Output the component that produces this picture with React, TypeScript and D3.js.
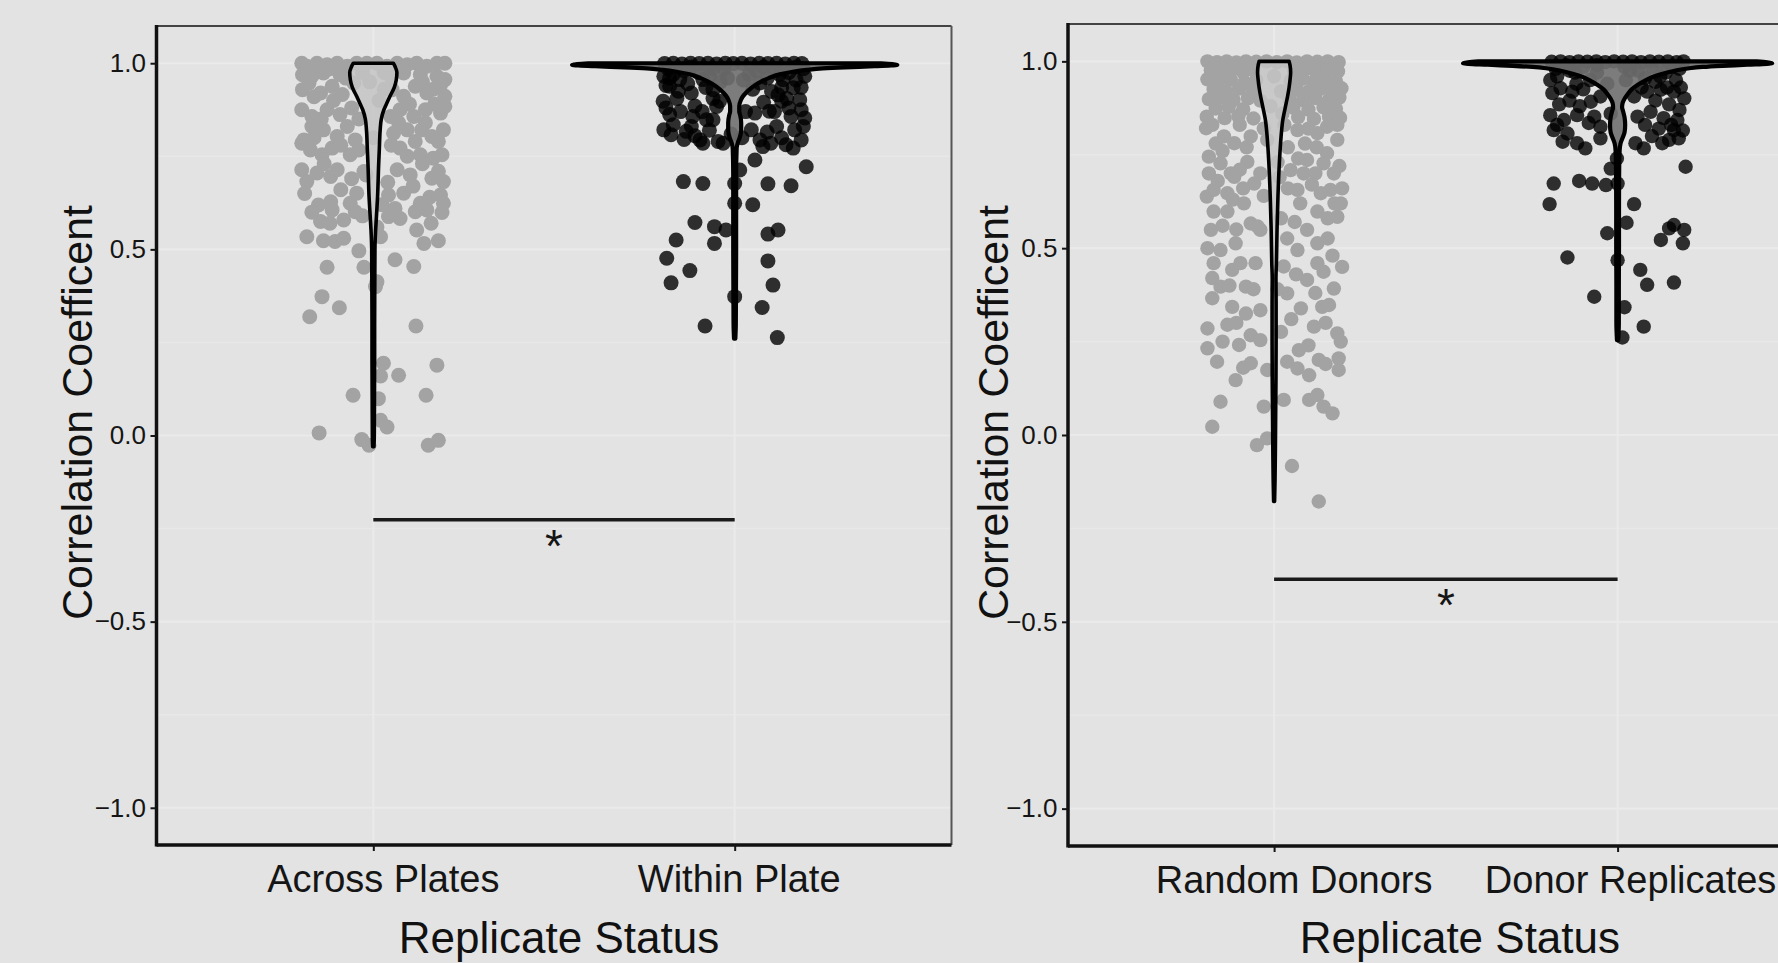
import React, { useEffect, useRef } from 'react'
import * as d3 from 'd3'

const FONT = '"Liberation Sans", Arial, Helvetica, sans-serif'

const leftCategories = ['Across Plates', 'Within Plate']
const rightCategories = ['Random Donors', 'Donor Replicates']
const yTicks = [-1, -0.5, 0, 0.5, 1]
const yMinorTicks = [-0.75, -0.25, 0.25, 0.75]

// points: [jitter (-1..1 of the jitter width), correlation]
const acrossPlates = [
  [0.56, 0.454], [-0.64, 0.452], [-0.13, 0.452], [0.3, 0.472], [0.05, 0.413], [-0.71, 0.373], [-0.47, 0.343],
  [-0.88, 0.319], [0.59, 0.294], [0.88, 0.189], [0.14, 0.194], [0.35, 0.162], [0.1, 0.16], [-0.28, 0.108],
  [0.73, 0.108], [0.07, 0.099], [0.1, 0.041], [0.19, 0.023], [-0.75, 0.007], [-0.16, -0.011], [-0.06, -0.026],
  [0.76, -0.026], [0.9, -0.013], [-0.2, 0.496], [-0.92, 0.534], [-0.69, 0.523], [-0.53, 0.521], [-0.41, 0.53],
  [0.7, 0.516], [0.9, 0.523], [0.6, 0.552], [0.1, 0.534], [0.03, 0.4],
  [-0.73, 0.575], [-0.57, 0.606], [-0.41, 0.579], [-0.25, 0.601], [0.21, 0.588], [0.37, 0.583], [0.58, 0.601],
  [0.74, 0.606], [0.95, 0.599],
  [-0.76, 0.619], [-0.59, 0.628], [-0.32, 0.624], [-0.23, 0.651], [0.21, 0.646], [0.42, 0.651], [0.65, 0.624],
  [0.93, 0.646], [0.97, 0.624],
  [-0.99, 0.714], [-0.92, 0.682], [-0.78, 0.705], [-0.59, 0.696], [-0.5, 0.714], [-0.13, 0.709], [0.33, 0.714],
  [0.51, 0.7], [0.81, 0.691], [0.97, 0.682],
  [-0.99, 0.785], [-0.87, 0.767], [-0.71, 0.754], [-0.57, 0.772], [-0.32, 0.754], [-0.2, 0.767], [0.37, 0.772],
  [0.47, 0.75], [0.65, 0.754], [0.83, 0.745], [0.95, 0.754],
  [-0.96, 0.794], [-0.85, 0.83], [-0.69, 0.821], [-0.5, 0.803], [-0.36, 0.83], [-0.25, 0.794], [0.28, 0.812],
  [0.47, 0.821], [0.67, 0.821], [0.81, 0.803], [0.97, 0.821],
  [-0.99, 0.875], [-0.85, 0.857], [-0.64, 0.875], [-0.46, 0.862], [0.24, 0.857], [0.37, 0.875], [0.56, 0.857],
  [0.72, 0.875], [0.93, 0.866], [0.99, 0.884],
  [-0.98, 0.929], [-0.89, 0.947], [-0.73, 0.92], [-0.57, 0.938], [-0.43, 0.916], [-0.27, 0.947], [0.26, 0.929],
  [0.42, 0.911], [0.58, 0.938], [0.74, 0.92], [0.93, 0.942], [0.99, 0.911],
  [-0.99, 1.0], [-0.92, 0.992], [-0.78, 1.0], [-0.64, 0.996], [-0.5, 1.0], [-0.36, 0.992], [-0.23, 1.0],
  [-0.09, 1.0], [0.05, 1.0], [0.19, 0.992], [0.33, 1.0], [0.47, 0.996], [0.6, 1.0], [0.74, 0.992], [0.88, 1.0],
  [0.99, 1.0], [-0.98, 0.969], [-0.85, 0.965], [-0.69, 0.974], [-0.46, 0.969], [0.24, 0.965], [0.42, 0.974],
  [0.65, 0.969], [0.88, 0.965], [0.99, 0.956],
  [-0.05, 0.95], [0.08, 0.9], [0.0, 0.8], [-0.1, 0.7], [0.12, 0.62], [0.05, 0.56],
  [-0.85, 0.6], [-0.6, 0.57], [-0.15, 0.59], [0.3, 0.61], [0.8, 0.57], [-0.95, 0.65], [-0.45, 0.66], [0.55, 0.67],
  [0.78, 0.64], [-0.68, 0.73], [-0.3, 0.69], [0.2, 0.68], [0.68, 0.73], [0.9, 0.71], [-0.82, 0.8], [-0.45, 0.78],
  [0.25, 0.78], [0.58, 0.79], [0.9, 0.79], [-0.72, 0.85], [-0.2, 0.85], [0.35, 0.84], [0.72, 0.84], [0.85, 0.89],
  [-0.55, 0.9], [-0.3, 0.88], [0.5, 0.89], [-0.82, 0.91], [0.15, 0.93], [0.68, 0.95], [-0.38, 0.96], [0.83, 0.93],
  [-0.6, 0.985], [0.3, 0.985], [0.15, 0.975], [-0.15, 0.975],
]

const withinPlate = [
  [0.99, 0.722], [-0.71, 0.682], [-0.44, 0.677], [0.46, 0.676], [0.78, 0.671], [0.28, 0.74], [0.07, 0.713],
  [0.39, 0.776], [0.25, 0.62], [0.0, 0.624], [0.0, 0.677], [-0.55, 0.572], [-0.28, 0.561], [-0.12, 0.552],
  [-0.81, 0.525], [-0.28, 0.516], [0.46, 0.541], [0.6, 0.552], [-0.94, 0.476], [-0.62, 0.443], [-0.88, 0.41],
  [0.46, 0.469], [0.53, 0.404], [0.0, 0.373], [0.38, 0.344], [-0.41, 0.294], [0.59, 0.263],
  [-0.97, 0.999], [-0.85, 1.0], [-0.73, 0.998], [-0.61, 1.0], [-0.49, 0.999], [-0.37, 1.0], [-0.25, 0.998],
  [-0.13, 1.0], [-0.02, 0.999], [0.1, 1.0], [0.22, 0.998], [0.34, 1.0], [0.46, 0.999], [0.58, 1.0], [0.7, 0.998],
  [0.82, 1.0], [0.93, 0.999],
  [-0.98, 0.965], [-0.9, 0.938], [-0.76, 0.956], [-0.6, 0.92], [-0.44, 0.956], [-0.3, 0.929], [-0.21, 0.898],
  [0.35, 0.947], [0.51, 0.924], [0.67, 0.956], [0.81, 0.934], [0.97, 0.965], [0.9, 0.902],
  [-0.99, 0.898], [-0.9, 0.862], [-0.58, 0.857], [-0.25, 0.884], [-0.39, 0.848], [0.28, 0.866], [0.48, 0.871],
  [0.65, 0.898], [0.78, 0.857], [0.97, 0.853],
  [-0.98, 0.821], [-0.88, 0.808], [-0.67, 0.817], [-0.48, 0.794], [-0.3, 0.848], [-0.16, 0.785], [0.23, 0.821],
  [0.35, 0.794], [0.58, 0.83], [0.71, 0.781], [0.83, 0.821], [0.92, 0.794], [0.81, 0.772], [-0.44, 0.785],
  [-0.23, 0.79],
  [-0.92, 0.985], [-0.7, 0.98], [-0.5, 0.975], [-0.3, 0.985], [0.3, 0.98], [0.55, 0.985], [0.75, 0.975],
  [0.95, 0.985], [-0.8, 0.905], [0.6, 0.915], [-0.1, 0.96], [0.12, 0.955], [-0.95, 0.94], [0.92, 0.935],
  [-0.55, 0.885], [0.15, 0.87],
  [-0.9, 0.96], [-0.65, 0.945], [-0.4, 0.935], [-0.2, 0.95], [0.25, 0.93], [0.45, 0.96], [0.65, 0.935],
  [0.85, 0.955], [-0.95, 0.88], [-0.75, 0.87], [-0.45, 0.87], [-0.3, 0.905], [0.4, 0.895], [0.55, 0.87],
  [0.75, 0.88], [0.92, 0.875], [-0.85, 0.835], [-0.6, 0.83], [-0.35, 0.82], [-0.05, 0.81], [0.1, 0.8],
  [0.45, 0.815], [0.65, 0.8], [0.95, 0.83], [-0.7, 0.795], [-0.55, 0.805], [0.5, 0.785], [-0.85, 0.97],
  [-0.6, 0.99], [-0.35, 0.965], [-0.15, 0.985], [0.2, 0.97], [0.4, 0.99], [0.62, 0.97], [0.85, 0.99],
  [-0.78, 0.925], [0.72, 0.905],
]

const randomDonors = [
  [0.65, -0.178], [0.26, -0.083], [-0.25, -0.027], [-0.1, -0.009], [-0.9, 0.022], [-0.78, 0.089], [-0.15, 0.076],
  [0.14, 0.094], [0.51, 0.094], [0.63, 0.107], [0.72, 0.076], [0.85, 0.058], [-0.56, 0.147], [-0.34, 0.192],
  [-0.1, 0.174], [0.19, 0.196], [0.34, 0.178], [0.51, 0.16], [0.65, 0.201], [0.94, 0.174], [0.94, 0.205],
  [-0.83, 0.196], [-0.97, 0.232], [-0.97, 0.285], [-0.68, 0.295], [-0.51, 0.241], [-0.34, 0.267], [-0.2, 0.254],
  [0.1, 0.276], [0.36, 0.227], [0.58, 0.29], [0.97, 0.25], [0.92, 0.272], [-0.61, 0.343], [-0.41, 0.325],
  [-0.2, 0.334], [0.19, 0.379], [0.39, 0.339], [0.48, 0.415], [0.7, 0.343], [0.8, 0.348], [0.87, 0.392],
  [0.99, 0.45], [-0.9, 0.366], [-0.78, 0.397], [-0.61, 0.442], [-0.41, 0.397], [-0.49, 0.46], [-0.27, 0.46],
  [0.14, 0.451], [0.63, 0.46], [0.72, 0.437], [-0.88, 0.46], [-0.97, 0.5], [-0.78, 0.495], [-0.56, 0.513],
  [-0.34, 0.566], [-0.2, 0.549], [0.19, 0.526], [0.34, 0.495], [0.48, 0.549], [0.63, 0.513], [0.78, 0.526],
  [-0.92, 0.549], [-0.88, 0.598], [-0.68, 0.598], [-0.44, 0.62], [-0.24, 0.558], [0.38, 0.62], [0.63, 0.598],
  [0.92, 0.584], [0.97, 0.62], [-0.98, 0.638], [-0.88, 0.656], [-0.68, 0.647], [-0.58, 0.691], [-0.29, 0.673],
  [0.34, 0.656], [0.43, 0.7], [0.68, 0.647], [0.82, 0.656], [0.99, 0.66], [-0.95, 0.745], [-0.78, 0.727],
  [-0.63, 0.7], [-0.39, 0.731], [-0.2, 0.7], [0.24, 0.709], [0.48, 0.736], [0.72, 0.727], [0.87, 0.7],
  [0.77, 0.754], [0.92, 0.79], [-0.99, 0.821], [-0.73, 0.799], [-0.58, 0.781], [-0.34, 0.799], [0.34, 0.816],
  [0.63, 0.808], [0.77, 0.825],
  [-0.97, 1.0], [-0.83, 0.998], [-0.69, 1.0], [-0.55, 0.997], [-0.41, 1.0], [-0.26, 0.999], [-0.11, 1.0],
  [0.04, 0.998], [0.19, 1.0], [0.33, 0.997], [0.48, 1.0], [0.63, 0.999], [0.78, 1.0], [0.94, 0.998],
  [-0.92, 0.976], [-0.76, 0.972], [-0.6, 0.979], [-0.45, 0.971], [-0.31, 0.977], [0.29, 0.974], [0.45, 0.978],
  [0.61, 0.972], [0.78, 0.977], [0.93, 0.973],
  [-0.97, 0.952], [-0.81, 0.946], [-0.63, 0.951], [-0.43, 0.944], [-0.26, 0.95], [0.24, 0.948], [0.41, 0.953],
  [0.57, 0.945], [0.74, 0.95], [0.9, 0.947],
  [-0.88, 0.925], [-0.7, 0.92], [-0.51, 0.927], [-0.31, 0.922], [0.33, 0.924], [0.5, 0.919], [0.67, 0.926],
  [0.85, 0.921], [0.98, 0.928],
  [-0.95, 0.899], [-0.78, 0.903], [-0.59, 0.897], [-0.38, 0.901], [-0.2, 0.895], [0.22, 0.9], [0.42, 0.896],
  [0.6, 0.902], [0.8, 0.898], [0.95, 0.903],
  [-0.85, 0.874], [-0.66, 0.878], [-0.45, 0.872], [0.28, 0.876], [0.5, 0.871], [0.72, 0.877], [0.9, 0.873],
  [-0.98, 0.852], [-0.72, 0.848], [-0.52, 0.853], [-0.3, 0.847], [0.35, 0.851], [0.58, 0.846], [0.8, 0.852],
  [0.96, 0.849],
  [-0.9, 0.83], [-0.5, 0.83], [-0.15, 0.82], [0.15, 0.83], [0.5, 0.82], [0.92, 0.83], [-0.85, 0.78], [-0.4, 0.77],
  [0.2, 0.77], [0.45, 0.78], [0.62, 0.77], [-0.95, 0.7], [-0.75, 0.76], [-0.5, 0.71], [0.05, 0.73], [0.35, 0.74],
  [0.6, 0.7], [0.95, 0.72], [-0.82, 0.68], [-0.45, 0.66], [-0.15, 0.64], [0.2, 0.66], [0.55, 0.67], [0.88, 0.62],
  [-0.6, 0.63], [-0.75, 0.56], [-0.55, 0.55], [0.1, 0.58], [0.3, 0.57], [0.78, 0.58], [-0.9, 0.42], [0.32, 0.43],
  [0.85, 0.48], [-0.65, 0.4], [0.05, 0.39], [-0.3, 0.39], [0.6, 0.38], [-0.55, 0.3], [0.25, 0.31], [0.75, 0.3],
  [-0.75, 0.25], [0.5, 0.24], [-0.45, 0.18], [0.75, 0.19], [0.0, 0.96], [0.1, 0.92], [-0.05, 0.88], [0.12, 0.86],
  [-0.1, 0.79], [0.08, 0.69],
]

const donorReplicates = [
  [0.99, 0.718], [-0.93, 0.673], [-0.56, 0.68], [-0.37, 0.673], [-0.17, 0.669], [0.0, 0.673], [-0.1, 0.713],
  [-0.01, 0.74], [-0.99, 0.618], [0.24, 0.618], [0.13, 0.568], [0.75, 0.553], [0.82, 0.562], [0.97, 0.549],
  [0.63, 0.522], [0.95, 0.513], [-0.15, 0.54], [0.0, 0.468], [-0.73, 0.475], [0.33, 0.442], [0.43, 0.402],
  [0.82, 0.408], [-0.34, 0.37], [0.1, 0.342], [0.38, 0.29], [0.07, 0.261],
  [-0.96, 0.999], [-0.83, 1.0], [-0.7, 0.998], [-0.57, 1.0], [-0.44, 0.999], [-0.31, 1.0], [-0.18, 0.998],
  [-0.05, 1.0], [0.08, 0.999], [0.21, 1.0], [0.34, 0.998], [0.47, 1.0], [0.6, 0.999], [0.73, 1.0], [0.86, 0.998],
  [0.96, 1.0],
  [-0.98, 0.95], [-0.83, 0.928], [-0.66, 0.919], [-0.39, 0.892], [-0.25, 0.906], [0.24, 0.906], [0.43, 0.919],
  [0.63, 0.924], [0.82, 0.919], [0.97, 0.901],
  [-0.98, 0.856], [-0.78, 0.843], [-0.59, 0.856], [-0.34, 0.852], [-0.25, 0.825], [0.29, 0.852], [0.48, 0.865],
  [0.67, 0.848], [0.87, 0.843],
  [-0.93, 0.816], [-0.73, 0.807], [-0.59, 0.781], [-0.47, 0.767], [-0.25, 0.794], [0.26, 0.781], [0.38, 0.767],
  [0.65, 0.781], [0.89, 0.794], [0.82, 0.816],
  [-0.9, 0.98], [-0.7, 0.975], [-0.5, 0.985], [-0.3, 0.97], [0.3, 0.975], [0.5, 0.985], [0.7, 0.97], [0.9, 0.98],
  [-0.6, 0.94], [0.55, 0.945], [-0.85, 0.885], [0.75, 0.885], [-0.1, 0.86], [0.12, 0.95],
  [-0.88, 0.96], [-0.62, 0.97], [-0.4, 0.95], [-0.15, 0.94], [0.18, 0.975], [0.4, 0.955], [0.62, 0.96],
  [0.85, 0.95], [-0.95, 0.915], [-0.5, 0.925], [0.35, 0.93], [0.72, 0.93], [0.92, 0.93], [-0.7, 0.895],
  [-0.55, 0.88], [0.55, 0.895], [0.9, 0.87], [-0.88, 0.83], [-0.42, 0.835], [0.4, 0.83], [0.6, 0.82],
  [0.78, 0.83], [0.95, 0.815], [-0.8, 0.785], [0.5, 0.8], [0.75, 0.79], [-0.3, 0.99], [0.1, 0.985],
  [0.8, 0.985], [-0.75, 0.99],
]

// violin outlines: [correlation, half width as share of the widest violin]
const acrossViolin = [
  [1.0, 0.123], [0.99, 0.135], [0.975, 0.145], [0.955, 0.141], [0.935, 0.129], [0.91, 0.101], [0.89, 0.08],
  [0.875, 0.065], [0.85, 0.049], [0.82, 0.042], [0.77, 0.037], [0.73, 0.033], [0.64, 0.026], [0.58, 0.018],
  [0.55, 0.014], [0.5, 0.01], [0.4, 0.009], [0.3, 0.008], [0.2, 0.008], [0.1, 0.007], [0.0, 0.006],
  [-0.03, 0.004],
]
const withinViolin = [
  [1.0, 0.9], [0.996, 1.0], [0.992, 0.86], [0.989, 0.677], [0.986, 0.541], [0.982, 0.443], [0.977, 0.357],
  [0.97, 0.277], [0.96, 0.209], [0.95, 0.16], [0.94, 0.123], [0.93, 0.092], [0.92, 0.068], [0.91, 0.049],
  [0.9, 0.037], [0.885, 0.028], [0.87, 0.028], [0.86, 0.034], [0.84, 0.04], [0.82, 0.04], [0.8, 0.031],
  [0.785, 0.018], [0.77, 0.012], [0.7, 0.009], [0.6, 0.009], [0.5, 0.009], [0.4, 0.008], [0.3, 0.007],
  [0.26, 0.004],
]
const randomViolin = [
  [1.0, 0.097], [0.99, 0.103], [0.97, 0.107], [0.95, 0.103], [0.93, 0.097], [0.906, 0.087], [0.88, 0.074],
  [0.862, 0.065], [0.84, 0.055], [0.817, 0.049], [0.77, 0.04], [0.728, 0.034], [0.639, 0.025], [0.55, 0.019],
  [0.46, 0.015], [0.42, 0.012], [0.35, 0.013], [0.25, 0.013], [0.15, 0.012], [0.05, 0.01], [-0.05, 0.008],
  [-0.12, 0.006], [-0.178, 0.003],
]
const donorViolin = [
  [1.0, 0.9], [0.995, 1.0], [0.991, 0.84], [0.988, 0.679], [0.985, 0.55], [0.981, 0.453], [0.975, 0.369],
  [0.967, 0.291], [0.958, 0.226], [0.948, 0.175], [0.937, 0.129], [0.925, 0.091], [0.912, 0.065], [0.9, 0.045],
  [0.888, 0.032], [0.877, 0.029], [0.866, 0.036], [0.85, 0.045], [0.83, 0.049], [0.81, 0.045], [0.795, 0.032],
  [0.78, 0.019], [0.76, 0.013], [0.7, 0.01], [0.6, 0.009], [0.5, 0.009], [0.4, 0.008], [0.3, 0.008],
  [0.254, 0.004],
]

const leftSignificance = -0.226
const rightSignificance = -0.386

const LIGHT = { point: '#a3a3a3', pointOpacity: 1, violin: '#c4c4c4', violinOpacity: 0.85, stroke: 3.6 }
const DARK = { point: '#000000', pointOpacity: 0.8, violin: '#707070', violinOpacity: 0.9, stroke: 4.2 }

function Panel({ frame, categories, groups, sig, labelShift, xTitleShift, yTitleX, radius }) {
  const xAxisRef = useRef<SVGGElement>(null)
  const yAxisRef = useRef<SVGGElement>(null)

  const x = d3.scaleLinear().domain([0.4, 2.6]).range([frame.x0, frame.x1])
  const y = d3.scaleLinear().domain([-1.1, 1.1]).range([frame.y1, frame.y0])

  useEffect(() => {
    const gy = d3.select(yAxisRef.current)
    gy.call(d3.axisLeft(y).tickValues(yTicks).tickSize(6).tickPadding(4.5).tickFormat(d3.format('.1f')))
    gy.select('.domain').remove()
    gy.attr('font-family', FONT).attr('font-size', 26).attr('color', '#151515')
    gy.selectAll('line').attr('stroke-width', 2)

    const gx = d3.select(xAxisRef.current)
    gx.call(
      d3.axisBottom(x).tickValues([1, 2]).tickSize(6).tickPadding(14)
        .tickFormat((d, i) => categories[i])
    )
    gx.select('.domain').remove()
    gx.attr('font-family', FONT).attr('font-size', 38).attr('color', '#151515')
    gx.selectAll('line').attr('stroke-width', 2)
    gx.selectAll('text').attr('dx', (d, i) => labelShift[i])
  }, [])

  const violin = (profile, c) =>
    d3.area()
      .y(d => y(d[0]))
      .x0(d => x(c - d[1] * 0.45))
      .x1(d => x(c + d[1] * 0.45))
      .curve(d3.curveMonotoneY)(profile)

  const midX = (x(1) + x(2)) / 2

  return (
    <g>
      <rect x={frame.x0} y={frame.y0} width={frame.x1 - frame.x0} height={frame.y1 - frame.y0} fill="#e3e3e3" />
      {yMinorTicks.map(t => (
        <line key={'m' + t} x1={frame.x0} x2={frame.x1} y1={y(t)} y2={y(t)} stroke="#e8e8e8" strokeWidth={1.5} />
      ))}
      {yTicks.map(t => (
        <line key={'g' + t} x1={frame.x0} x2={frame.x1} y1={y(t)} y2={y(t)} stroke="#eaeaea" strokeWidth={2.2} />
      ))}
      {[1, 2].map(c => (
        <line key={'v' + c} x1={x(c)} x2={x(c)} y1={frame.y0} y2={frame.y1} stroke="#eaeaea" strokeWidth={2.2} />
      ))}

      {groups.map((g, gi) => (
        <g key={'p' + gi} fill={g.style.point} fillOpacity={g.style.pointOpacity}>
          {g.points.map((p, i) => (
            <circle key={i} cx={x(gi + 1 + p[0] * 0.2)} cy={y(p[1])} r={radius} />
          ))}
        </g>
      ))}
      {groups.map((g, gi) => (
        <path
          key={'v' + gi}
          d={violin(g.violin, gi + 1)}
          fill={g.style.violin}
          fillOpacity={g.style.violinOpacity}
          stroke="#000"
          strokeWidth={g.style.stroke}
          strokeLinejoin="round"
        />
      ))}

      <line x1={x(1)} x2={x(2)} y1={y(sig)} y2={y(sig)} stroke="#1a1a1a" strokeWidth={3.5} />
      <text x={midX} y={y(sig) + 42} textAnchor="middle" fontFamily={FONT} fontSize={46} fill="#151515">*</text>

      <line x1={frame.x0} x2={frame.x1} y1={frame.y0} y2={frame.y0} stroke="#444" strokeWidth={2.2} />
      <line x1={frame.x1} x2={frame.x1} y1={frame.y0} y2={frame.y1} stroke="#555" strokeWidth={2} />
      <line x1={frame.x0} x2={frame.x0} y1={frame.y0 - 1} y2={frame.y1 + 1.5} stroke="#111" strokeWidth={3.5} />
      <line x1={frame.x0} x2={frame.x1} y1={frame.y1} y2={frame.y1} stroke="#111" strokeWidth={3.5} />

      <g ref={yAxisRef} transform={`translate(${frame.x0},0)`} />
      <g ref={xAxisRef} transform={`translate(0,${frame.y1})`} />

      <text x={(frame.x0 + frame.x1) / 2 + xTitleShift} y={953} textAnchor="middle" fontFamily={FONT} fontSize={44} fill="#111">
        Replicate Status
      </text>
      <text
        transform={`translate(${yTitleX},412.5) rotate(-90)`}
        textAnchor="middle"
        fontFamily={FONT}
        fontSize={43}
        fill="#111"
      >
        Correlation Coefficent
      </text>
    </g>
  )
}

export default function App() {
  return (
    <svg
      width={1778}
      height={963}
      style={{ position: 'absolute', left: 0, top: 0, display: 'block' }}
    >
      <rect width={1778} height={963} fill="#e3e3e3" />
      <Panel
        frame={{ x0: 156.5, x1: 951.5, y0: 26, y1: 845 }}
        categories={leftCategories}
        groups={[
          { points: acrossPlates, violin: acrossViolin, style: LIGHT },
          { points: withinPlate, violin: withinViolin, style: DARK },
        ]}
        sig={leftSignificance}
        labelShift={[9.5, 4]}
        xTitleShift={5}
        yTitleX={92}
        radius={7.5}
      />
      <Panel
        frame={{ x0: 1068, x1: 1823.7, y0: 24, y1: 846 }}
        categories={rightCategories}
        groups={[
          { points: randomDonors, violin: randomViolin, style: LIGHT },
          { points: donorReplicates, violin: donorViolin, style: DARK },
        ]}
        sig={rightSignificance}
        labelShift={[19.5, 12.5]}
        xTitleShift={14}
        yTitleX={1008}
        radius={7.2}
      />
    </svg>
  )
}
